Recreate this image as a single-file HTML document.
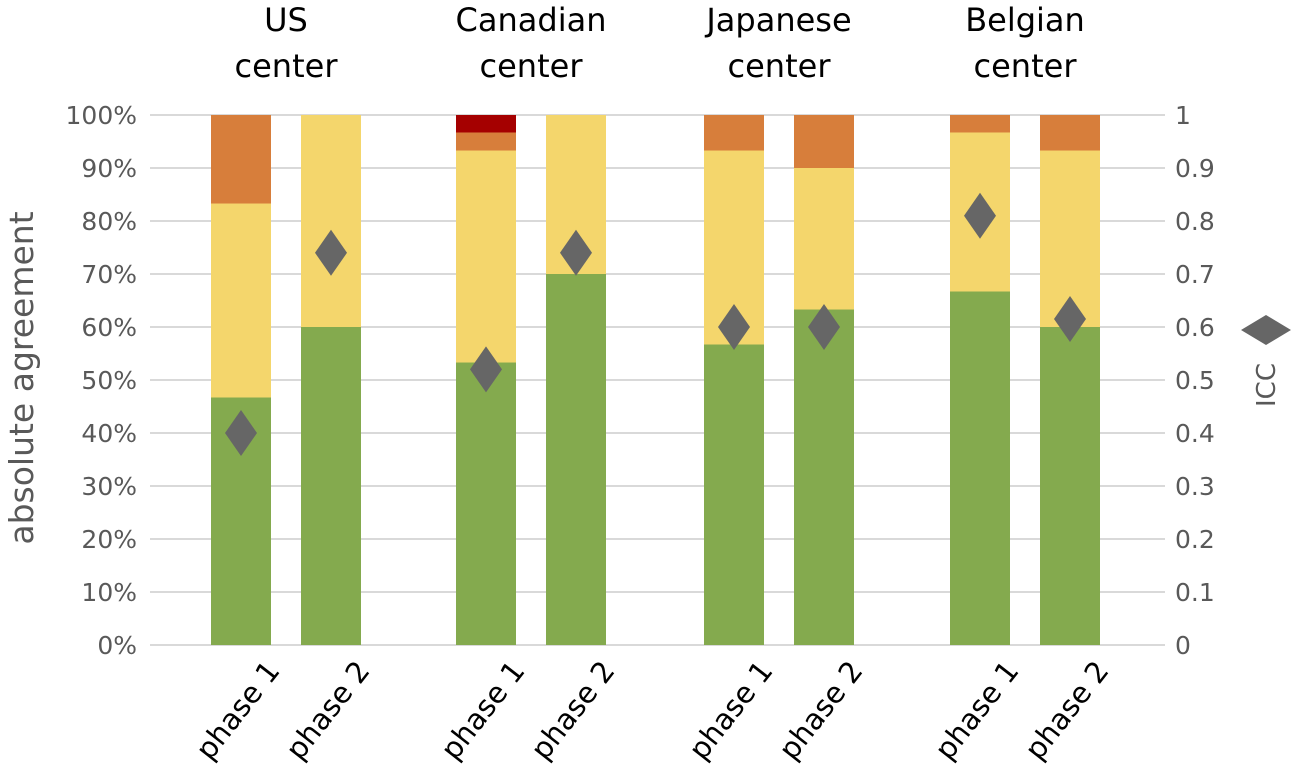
<!DOCTYPE html>
<html><head><meta charset="utf-8"><style>
body{margin:0;background:#fff;}
svg{display:block;font-family:"DejaVu Sans","Liberation Sans",sans-serif;}
</style></head><body>
<svg id="chart" width="1294" height="775" viewBox="0 0 1294 775"></svg>
<script>
const centers = ["US center","Canadian center","Japanese center","Belgian center"];
const phases = ["phase 1","phase 2"];
const greenVals = [46.7,60,53.3,70,56.7,63.3,66.7,60];
const yellowVals = [36.6,40,40,30,36.6,26.7,30,33.3];
const orangeVals = [16.7,0,3.4,0,6.7,10,3.3,6.7];
const redVals = [0,0,3.3,0,0,0,0,0];
const iccVals = [0.40,0.74,0.52,0.74,0.60,0.60,0.81,0.615];
const leftTicks = ["0%","10%","20%","30%","40%","50%","60%","70%","80%","90%","100%"];
const rightTicks = ["0","0.1","0.2","0.3","0.4","0.5","0.6","0.7","0.8","0.9","1"];

const NS="http://www.w3.org/2000/svg";
const svg=document.getElementById('chart');
function mk(tag,attrs,parent){const e=document.createElementNS(NS,tag);for(const k in attrs)e.setAttribute(k,attrs[k]);(parent||svg).appendChild(e);return e;}
const y0=645,y1=115,xL=150,xR=1165;
const yP=v=>y0-(y0-y1)*v/100;
const yI=v=>y0-(y0-y1)*v;
const barStarts=[211,301,456,546,704,794,950,1040], bw=60;
const xBar=i=>barStarts[i];

for(let i=0;i<leftTicks.length;i++){
  const y=yP(i*10);
  const g=mk('line',{x1:xL,x2:xR,y1:y,y2:y,stroke:'#d9d9d9','stroke-width':2});
  
  
  const t=mk('text',{x:137,y:y+9,'text-anchor':'end','font-size':25,fill:'#595959'});
  t.textContent=leftTicks[i];
  
  
  const r=mk('text',{x:1175,y:y+9,'font-size':25,fill:'#595959'});
  r.textContent=rightTicks[i];
  
  
}
const series=[[greenVals,'#84aa4e','green'],[yellowVals,'#f4d66c','yellow'],[orangeVals,'#d77e3b','orange'],[redVals,'#a50000','red']];
for(let i=0;i<greenVals.length;i++){
  let acc=0;
  for(const [arr,col,nm] of series){
    const v=arr[i]; if(v<=0) continue;
    const r=mk('rect',{x:xBar(i),y:yP(acc+v),width:bw,height:yP(acc)-yP(acc+v),fill:col});
    
    
    acc+=v;
  }
  const cx=xBar(i)+bw/2, cy=yI(iccVals[i]);
  const d=mk('polygon',{points:`${cx},${cy-23} ${cx+16},${cy} ${cx},${cy+23} ${cx-16},${cy}`,fill:'#666'});
  
  
  const lx=cx+40, ly=671;
  const t=mk('text',{x:lx,y:ly,'text-anchor':'end','font-size':29,fill:'#000',transform:`rotate(-52 ${lx} ${ly})`});
  t.textContent=phases[i%2];
  
  
}
for(let c=0;c<centers.length;c++){
  const cx=(xBar(2*c)+xBar(2*c+1)+bw)/2;
  const parts=centers[c].split(' ');
  const t=mk('text',{x:cx,y:31,'text-anchor':'middle','font-size':32,fill:'#000'});
  t.textContent=parts[0];
  
  
  const t2=mk('text',{x:cx,y:77,'text-anchor':'middle','font-size':32,fill:'#000'});
  t2.textContent=parts[1];
  
  
}
const yt=mk('text',{x:33,y:378,'text-anchor':'middle','font-size':33,fill:'#595959',transform:'rotate(-90 33 378)'});
yt.textContent='absolute agreement';


const it=mk('text',{x:1275,y:385,'text-anchor':'middle','font-size':26,fill:'#595959',transform:'rotate(-90 1275 385)'});
it.textContent='ICC';


const ld=mk('polygon',{points:'1241,330 1266,315 1291,330 1266,345',fill:'#666'});


</script>
</body></html>
